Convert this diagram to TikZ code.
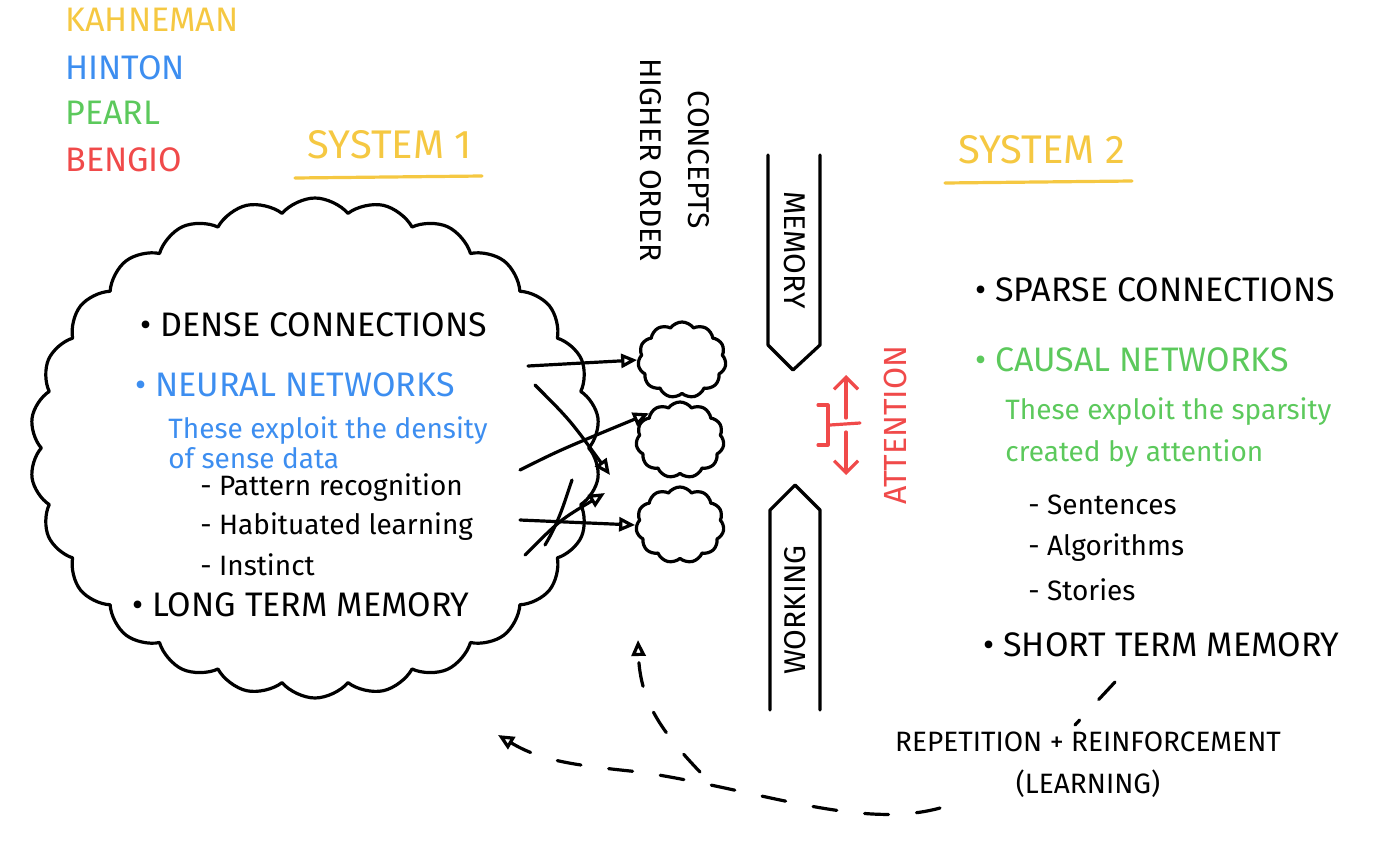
\documentclass[tikz,border=0pt]{standalone}
\usepackage{fontspec}
\setmainfont{Fira Sans}
\usetikzlibrary{shapes.symbols,arrows.meta}
\definecolor{kyel}{HTML}{F5C842}
\definecolor{hblue}{HTML}{3D8EF0}
\definecolor{pgreen}{HTML}{5CC95C}
\definecolor{bred}{HTML}{F04A4A}
\tikzset{
 pen/.style={line width=1.6pt,line cap=round,line join=round},
 big/.style={font=\fontsize{17}{20}\selectfont\scshape,anchor=west,inner sep=0},
 small/.style={font=\fontsize{14}{17}\selectfont,anchor=west,inner sep=0},
 puff/.style={cloud,draw,pen,cloud puffs=11,cloud puff arc=110,aspect=1.1,minimum width=44,minimum height=38},
 tri/.style={-{Triangle[open,length=8pt,width=7pt]}},
 dsh/.style={pen,dash pattern=on 12pt off 14pt},
}
\begin{document}
\begin{tikzpicture}[x=0.5pt,y=-0.5pt]
\useasboundingbox (0,0) rectangle (1400,851);
% legend
\node[big,text=kyel] (lk) at (65,20) {KAHNEMAN};
\node[big,text=hblue] (lh) at (65,68) {HINTON};
\node[big,text=pgreen] (lp) at (65,113) {PEARL};
\node[big,text=bred] (lb) at (65,160) {BENGIO};
% system titles
\node[font=\fontsize{20}{24}\selectfont\scshape,text=kyel] (s1) at (390,145) {SYSTEM 1};
\draw[pen,kyel] (295,178) -- (482,176);
\node[font=\fontsize{20}{24}\selectfont\scshape,text=kyel] (s2) at (1042,150) {SYSTEM 2};
\draw[pen,kyel] (945,183) -- (1132,181);
% big cloud
\node[cloud,draw,pen,cloud puffs=26,cloud puff arc=100,aspect=1.2,minimum width=285,minimum height=250] (bc) at (315,448) {};
\node[big] (t1) at (140,325) {• DENSE CONNECTIONS};
\node[big,text=hblue] (t2) at (135,385) {• NEURAL NETWORKS};
\node[small,text=hblue,align=left] (t3) at (168,443) {These exploit the density\\[-2pt]of sense data};
\node[small] (t4) at (200,488) {- Pattern recognition};
\node[small] (t5) at (200,527) {- Habituated learning};
\node[small] (t6) at (200,565) {- Instinct};
\node[big] (t7) at (132,605) {• LONG TERM MEMORY};
% small clouds
\node[puff] (c1) at (682,360) {};
\node[puff] (c2) at (680,440) {};
\node[puff] (c3) at (680,525) {};
% crossing arrows
\coordinate (a1) at (528,366); \coordinate (a2) at (535,385);
\coordinate (a3) at (520,470); \coordinate (a4) at (520,520);
\coordinate (a5) at (525,555); \coordinate (a6) at (545,545);
\draw[pen,tri] (a1) -- (c1.west);
\draw[pen,tri] (a2) .. controls (570,420) .. (610,475);
\draw[pen,tri] (a3) .. controls (560,450) .. (c2.north west);
\draw[pen,tri] (a4) -- (c3.west);
\draw[pen,tri] (a5) .. controls (560,520) .. (605,493);
\draw[pen] (a6) .. controls (560,520) and (565,500) .. (572,480);
% higher order concepts
\node[font=\fontsize{15}{18}\selectfont,rotate=-90,align=center] (hoc) at (675,160) {CONCEPTS\\[6pt]HIGHER ORDER};
% memory banner
\draw[pen] (768,155) -- (768,345) -- (793,370) -- (820,345) -- (820,155);
\node[font=\fontsize{15}{18}\selectfont,rotate=-90] (mem) at (795,250) {MEMORY};
\draw[pen] (770,710) -- (770,510) -- (795,485) -- (820,510) -- (820,710);
\node[font=\fontsize{15}{18}\selectfont,rotate=90] (work) at (795,610) {WORKING};
% attention
\node[font=\fontsize{16}{19}\selectfont,rotate=90,text=bred] (att) at (895,425) {ATTENTION};
\draw[pen,bred] (818,405) -- (828,405) -- (828,445) -- (818,445);
\draw[pen,bred] (830,425) -- (860,423);
\coordinate (u0) at (846,418); \coordinate (u1) at (846,375);
\coordinate (d0) at (846,432); \coordinate (d1) at (846,475);
\draw[pen,bred,-{Straight Barb[length=6pt]}] (u0) -- (u1);
\draw[pen,bred,-{Straight Barb[length=6pt]}] (d0) -- (d1);
% right list
\node[big] (r1) at (975,290) {• SPARSE CONNECTIONS};
\node[big,text=pgreen] (r2) at (975,360) {• CAUSAL NETWORKS};
\node[small,text=pgreen,align=left] (r3) at (1005,433) {These exploit the sparsity\\[4pt]created by attention};
\node[small] (r4) at (1028,505) {- Sentences};
\node[small] (r5) at (1028,548) {- Algorithms};
\node[small] (r6) at (1028,590) {- Stories};
\node[big] (r7) at (983,645) {• SHORT TERM MEMORY};
% learning
\node[font=\fontsize{14}{17}\selectfont\scshape,align=center] (rep) at (1088,765) {REPETITION + REINFORCEMENT\\[4pt](LEARNING)};
\coordinate (q0) at (1115,682); \coordinate (q1) at (1075,725);
\draw[dsh] (q0) -- (q1);
\coordinate (p0) at (940,808); \coordinate (p1) at (498,735);
\draw[dsh,tri] (p0) .. controls (860,830) and (760,790) .. (640,772) .. controls (570,765) and (540,760) .. (p1);
\coordinate (m0) at (700,772); \coordinate (m1) at (638,640);
\draw[dsh,tri] (m0) .. controls (660,730) and (640,700) .. (m1);
\end{tikzpicture}
\end{document}
